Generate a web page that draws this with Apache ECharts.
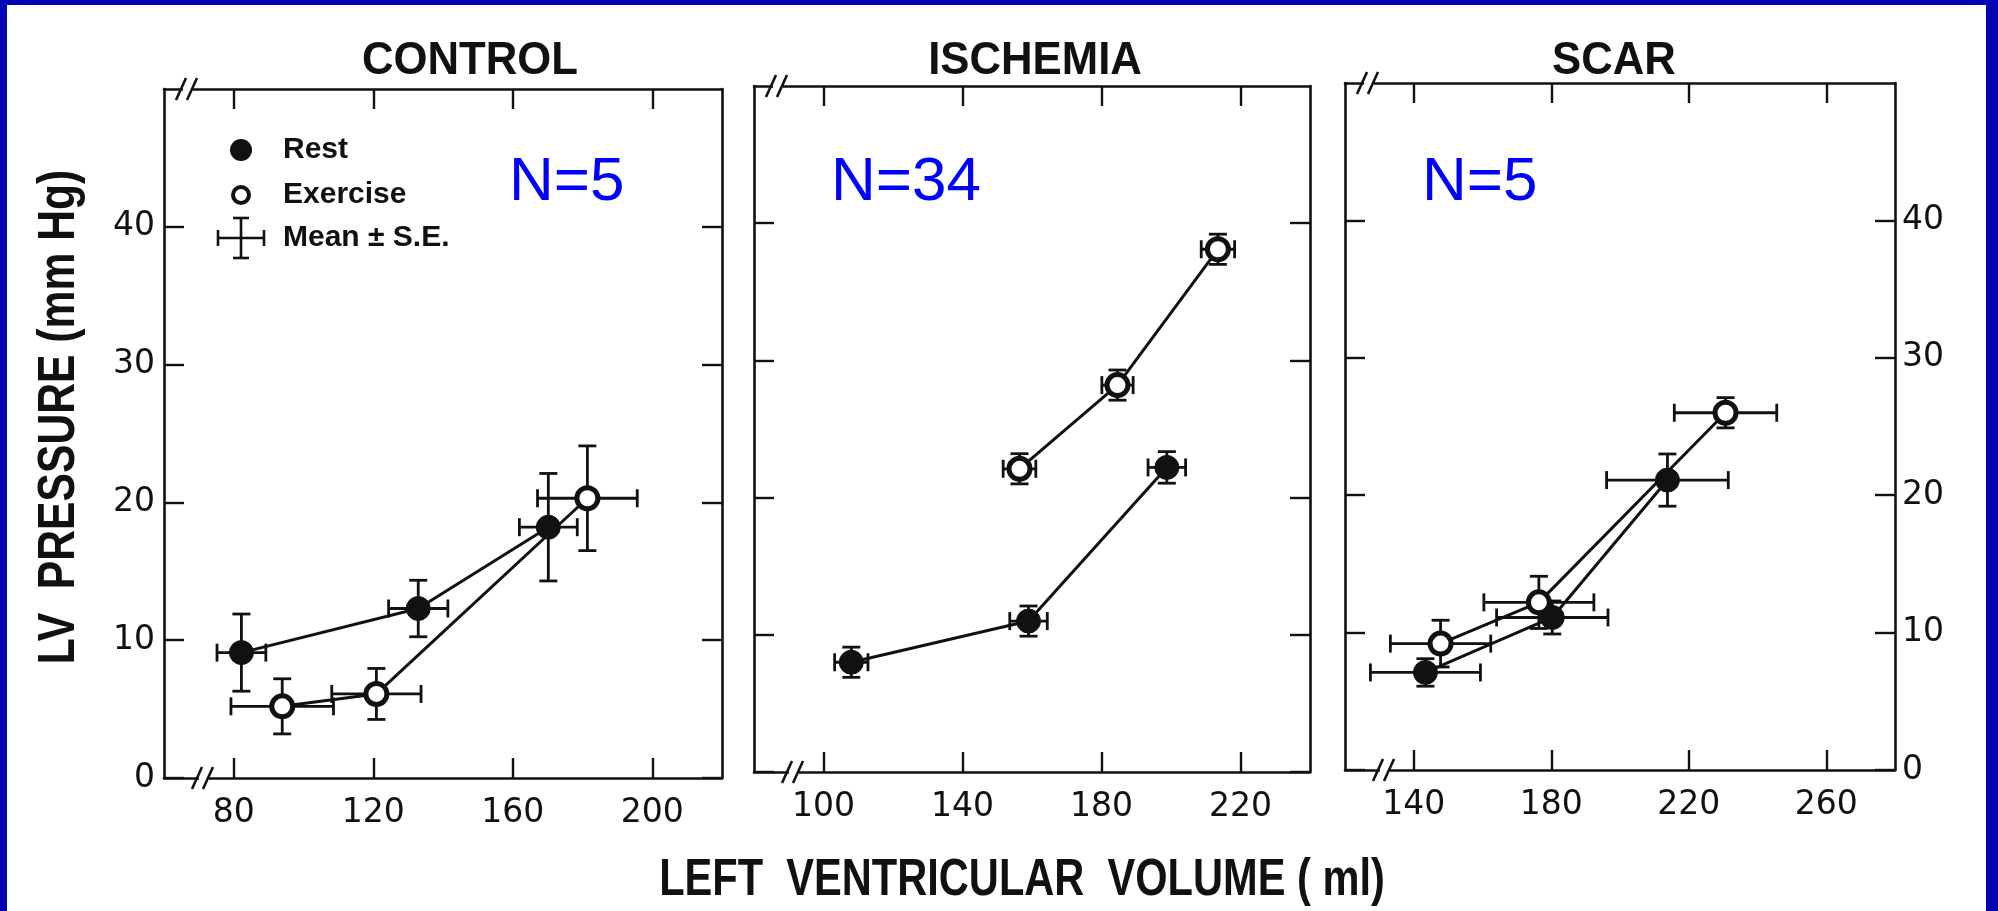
<!DOCTYPE html>
<html>
<head>
<meta charset="utf-8">
<title>LV pressure vs volume</title>
<script src="https://cdn.jsdelivr.net/npm/echarts@6/dist/echarts.min.js"></script>
<style>
  html, body { margin: 0; padding: 0; background: #fff; }
  #chart { width: 1998px; height: 911px; }
</style>
</head>
<body>
<div id="chart"></div>
<script>
// panel setup
const panelTitles = ['CONTROL', 'ISCHEMIA', 'SCAR']
const panelN = ['N=5', 'N=34', 'N=5']
const xMin = [60, 80, 120]
const xMax = [220, 240, 280]
const xTicks = [[80, 120, 160, 200], [100, 140, 180, 220], [140, 180, 220, 260]]
const yTicks = [0, 10, 20, 30, 40]

// [volume ml, pressure mmHg] and [volume SE, pressure SE]
const controlRest = [[82.2, 9.1], [132.9, 12.3], [170.2, 18.2]]
const controlRestSE = [[7.0, 2.8], [8.5, 2.05], [8.3, 3.9]]
const controlExercise = [[93.9, 5.2], [120.9, 6.1], [181.4, 20.3]]
const controlExerciseSE = [[14.7, 2.0], [12.8, 1.85], [14.3, 3.8]]

const ischemiaRest = [[108.0, 8.0], [159.0, 11.0], [198.8, 22.2]]
const ischemiaRestSE = [[4.8, 1.1], [5.4, 1.1], [5.4, 1.15]]
const ischemiaExercise = [[156.4, 22.1], [184.6, 28.2], [213.5, 38.1]]
const ischemiaExerciseSE = [[4.7, 1.1], [4.5, 1.1], [4.8, 1.1]]

const scarRest = [[143.4, 7.1], [180.3, 11.1], [213.8, 21.1]]
const scarRestSE = [[16.0, 1.0], [16.2, 1.2], [17.7, 1.9]]
const scarExercise = [[147.8, 9.2], [176.4, 12.2], [230.7, 26.0]]
const scarExerciseSE = [[14.6, 1.7], [16.0, 1.9], [14.9, 1.1]]

const panels = [
  { rest: controlRest, restSE: controlRestSE, ex: controlExercise, exSE: controlExerciseSE },
  { rest: ischemiaRest, restSE: ischemiaRestSE, ex: ischemiaExercise, exSE: ischemiaExerciseSE },
  { rest: scarRest, restSE: scarRestSE, ex: scarExercise, exSE: scarExerciseSE },
]

const INK = '#111'
const BLUE_FRAME = '#0404b4'
const tickFont = 'DejaVu Sans'
const sansFont = '"Liberation Sans", Arial, sans-serif'

const gridBoxes = [
  { left: 164, top: 89, width: 558, height: 689 },
  { left: 754, top: 86, width: 556, height: 686 },
  { left: 1345, top: 83, width: 550, height: 687 },
]
const titleX = [470, 1035, 1614]
const nLabelX = [509, 831, 1422]

function withSE(pts, se) {
  return pts.map((p, i) => [p[0], p[1], se[i][0], se[i][1]])
}

function errorBarItem(params, api) {
  const x = api.value(0), y = api.value(1)
  const dx = api.value(2), dy = api.value(3)
  const c = api.coord([x, y])
  const l = api.coord([x - dx, y])[0], r = api.coord([x + dx, y])[0]
  const t = api.coord([x, y + dy])[1], b = api.coord([x, y - dy])[1]
  const cap = 9
  const style = { stroke: INK, lineWidth: 2.8 }
  const ln = (x1, y1, x2, y2) => ({ type: 'line', shape: { x1, y1, x2, y2 }, style })
  return {
    type: 'group',
    children: [
      ln(l, c[1], r, c[1]),
      ln(l, c[1] - cap, l, c[1] + cap),
      ln(r, c[1] - cap, r, c[1] + cap),
      ln(c[0], t, c[0], b),
      ln(c[0] - cap, t, c[0] + cap, t),
      ln(c[0] - cap, b, c[0] + cap, b),
    ],
  }
}

// "//" axis break marks near the left end of the top and bottom axes
function breakItem(params, api) {
  const p = api.coord([api.value(0), api.value(1)])
  const cx = p[0] + api.value(2)
  const cy = p[1]
  const style = { stroke: INK, lineWidth: 2.6 }
  return {
    type: 'group',
    children: [
      { type: 'rect', shape: { x: cx - 5, y: cy - 3, width: 10, height: 6 }, style: { fill: '#fff' } },
      { type: 'line', shape: { x1: cx - 12, y1: cy + 11, x2: cx - 2, y2: cy - 11 }, style },
      { type: 'line', shape: { x1: cx - 1, y1: cy + 11, x2: cx + 9, y2: cy - 11 }, style },
    ],
  }
}

const grid = [], xAxis = [], yAxis = [], series = []

panels.forEach((pn, i) => {
  grid.push(Object.assign({ containLabel: false }, gridBoxes[i]))
  const axisLine = { onZero: false, lineStyle: { color: INK, width: 2.6 } }
  const tickStyle = { color: INK, width: 2.4 }
  ;['bottom', 'top'].forEach(pos => {
    xAxis.push({
      type: 'value', gridIndex: i, position: pos, min: xMin[i], max: xMax[i],
      axisLine, splitLine: { show: false },
      axisTick: { inside: true, length: 20, customValues: xTicks[i], lineStyle: tickStyle },
      axisLabel: {
        show: pos === 'bottom', customValues: xTicks[i], margin: 19,
        fontSize: 33, fontFamily: tickFont, color: INK,
      },
    })
  })
  ;['left', 'right'].forEach(pos => {
    const showLabel = (i === 0 && pos === 'left') || (i === 2 && pos === 'right')
    yAxis.push({
      type: 'value', gridIndex: i, position: pos, min: 0, max: 50,
      axisLine, splitLine: { show: false },
      axisTick: { inside: true, length: 20, customValues: yTicks, lineStyle: tickStyle },
      axisLabel: {
        show: showLabel, customValues: yTicks, margin: pos === 'left' ? 9 : 7,
        fontSize: 33, fontFamily: tickFont, color: INK,
      },
    })
  })

  const xi = i * 2, yi = i * 2
  series.push({
    type: 'custom', xAxisIndex: xi, yAxisIndex: yi, z: 2,
    renderItem: errorBarItem, encode: { x: 0, y: 1 },
    data: withSE(pn.rest, pn.restSE).concat(withSE(pn.ex, pn.exSE)),
  })
  series.push({
    name: 'Rest', type: 'line', xAxisIndex: xi, yAxisIndex: yi, z: 3,
    data: pn.rest, symbol: 'circle', symbolSize: 24,
    lineStyle: { color: INK, width: 3 },
    itemStyle: { color: INK, borderColor: INK, borderWidth: 1 },
  })
  series.push({
    name: 'Exercise', type: 'line', xAxisIndex: xi, yAxisIndex: yi, z: 3,
    data: pn.ex, symbol: 'circle', symbolSize: 21,
    lineStyle: { color: INK, width: 3 },
    itemStyle: { color: '#fff', borderColor: INK, borderWidth: 5 },
  })
  series.push({
    type: 'custom', xAxisIndex: xi, yAxisIndex: yi, z: 4,
    renderItem: breakItem, encode: { x: 0, y: 1 },
    data: [[xMin[i], 0, 40], [xMin[i], 50, 24]],
  })
})

const graphic = []
// blue slide frame
graphic.push({ type: 'rect', shape: { x: 0, y: 0, width: 1998, height: 5 }, style: { fill: BLUE_FRAME } })
graphic.push({ type: 'rect', shape: { x: 0, y: 0, width: 7, height: 911 }, style: { fill: BLUE_FRAME } })
graphic.push({ type: 'rect', shape: { x: 1986, y: 0, width: 12, height: 911 }, style: { fill: BLUE_FRAME } })

panelTitles.forEach((t, i) => {
  graphic.push({
    type: 'text', x: titleX[i], y: 61, scaleX: 0.95,
    style: { text: t, fill: INK, font: 'bold 46px ' + sansFont,
      align: 'center', verticalAlign: 'middle', textAlign: 'center', textVerticalAlign: 'middle' },
  })
  graphic.push({
    type: 'text', x: nLabelX[i], y: 183,
    style: { text: panelN[i], fill: '#0000ff', font: '62px ' + sansFont,
      align: 'left', verticalAlign: 'middle', textAlign: 'left', textVerticalAlign: 'middle' },
  })
})

// legend (CONTROL panel)
const legendFont = 'bold 30px ' + sansFont
const legendRows = [['Rest', 150], ['Exercise', 195], ['Mean \u00b1 S.E.', 238]]
legendRows.forEach(([t, y]) => {
  graphic.push({
    type: 'text', x: 283, y: y,
    style: { text: t, fill: INK, font: legendFont,
      align: 'left', verticalAlign: 'middle', textAlign: 'left', textVerticalAlign: 'middle' },
  })
})
graphic.push({ type: 'circle', shape: { cx: 241, cy: 150, r: 11 }, style: { fill: INK } })
graphic.push({ type: 'circle', shape: { cx: 241, cy: 195, r: 8 }, style: { fill: '#fff', stroke: INK, lineWidth: 4 } })
const lg = { stroke: INK, lineWidth: 2.6 }
;[
  [218, 238, 264, 238], [218, 230, 218, 246], [264, 230, 264, 246],
  [241, 218, 241, 258], [233, 218, 249, 218], [233, 258, 249, 258],
].forEach(s => graphic.push({ type: 'line', shape: { x1: s[0], y1: s[1], x2: s[2], y2: s[3] }, style: lg }))

// shared axis titles (condensed bold)
graphic.push({
  type: 'text', x: 1022, y: 881, scaleX: 0.8,
  style: { text: 'LEFT  VENTRICULAR  VOLUME ( ml)', fill: INK, font: 'bold 52px ' + sansFont,
    align: 'center', verticalAlign: 'middle', textAlign: 'center', textVerticalAlign: 'middle' },
})
graphic.push({
  type: 'text', x: 60, y: 417, rotation: Math.PI / 2, scaleX: 0.82,
  style: { text: 'LV  PRESSURE (mm Hg)', fill: INK, font: 'bold 52px ' + sansFont,
    align: 'center', verticalAlign: 'middle', textAlign: 'center', textVerticalAlign: 'middle' },
})

const chart = echarts.init(document.getElementById('chart'))
chart.setOption({
  backgroundColor: '#fff',
  animation: false,
  grid, xAxis, yAxis, series, graphic,
})
</script>
</body>
</html>
